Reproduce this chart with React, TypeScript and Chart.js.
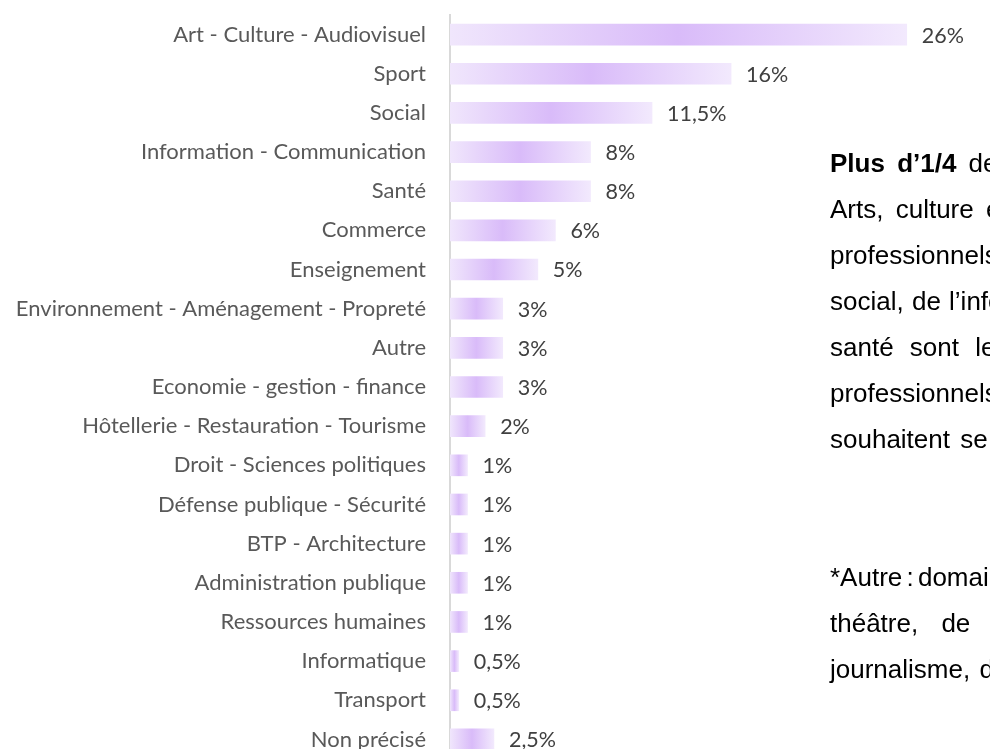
import React, { useEffect, useRef } from "react";
import { Chart, registerables } from "chart.js";

Chart.register(...registerables);

const categories = [
  "Art - Culture - Audiovisuel",
  "Sport",
  "Social",
  "Information - Communication",
  "Santé",
  "Commerce",
  "Enseignement",
  "Environnement - Aménagement - Propreté",
  "Autre",
  "Economie - gestion - finance",
  "Hôtellerie - Restauration - Tourisme",
  "Droit - Sciences politiques",
  "Défense publique - Sécurité",
  "BTP - Architecture",
  "Administration publique",
  "Ressources humaines",
  "Informatique",
  "Transport",
  "Non précisé",
];

const values = [26, 16, 11.5, 8, 8, 6, 5, 3, 3, 3, 2, 1, 1, 1, 1, 1, 0.5, 0.5, 2.5];

const valueLabels = values.map((v) => String(v).replace(".", ",") + "%");

const LABEL_FONT = "Lato";
const LABEL_SIZE = 22;

const valueLabelPlugin = {
  id: "valueLabels",
  afterDatasetsDraw(chart: any) {
    const { ctx } = chart;
    const meta = chart.getDatasetMeta(0);
    ctx.save();
    ctx.font = `${LABEL_SIZE - 0.5}px ${LABEL_FONT}`;
    ctx.fillStyle = "#404040";
    ctx.textAlign = "left";
    ctx.textBaseline = "middle";
    meta.data.forEach((el: any, i: number) => {
      ctx.fillText(valueLabels[i], el.x + 15, el.y + 1);
    });
    ctx.restore();
  },
};

const paragraphLines: { bold?: string; text: string; ws: number }[] = [
  { bold: "Plus d’1/4", text: " des jeunes souhaitent travailler dans les", ws: 5 },
  { text: "Arts, culture et audiovisuel. Les domaines", ws: 5 },
  { text: "professionnels du sport, du", ws: 3 },
  { text: "social, de l’information et de la", ws: 1 },
  { text: "santé sont les autres domaines", ws: 9 },
  { text: "professionnels dans lesquels les jeunes", ws: 3 },
  { text: "souhaitent se diriger.", ws: 3 },
];

const noteLines: { text: string; ws: number }[] = [
  { text: "*Autre : domaines du cinéma, du", ws: -3 },
  { text: "théâtre, de la musique, du", ws: 16 },
  { text: "journalisme, de la mode…", ws: 2 },
];

export default function App() {
  const canvasRef = useRef<HTMLCanvasElement | null>(null);

  useEffect(() => {
    const canvas = canvasRef.current;
    if (!canvas) return;
    const chart = new Chart(canvas, {
      type: "bar",
      data: {
        labels: categories,
        datasets: [
          {
            data: values,
            barThickness: 21,
            borderWidth: 0,
            backgroundColor: (c: any) => {
              const ch = c.chart;
              if (!ch.chartArea || c.raw === undefined) return "#e0c8fa";
              const xs = ch.scales.x;
              const x0 = xs.getPixelForValue(0);
              const x1 = xs.getPixelForValue(c.raw);
              const g = ch.ctx.createLinearGradient(x0, 0, Math.max(x1, x0 + 1), 0);
              g.addColorStop(0, "#f0e6fc");
              g.addColorStop(0.5, "#d9bbf9");
              g.addColorStop(1, "#f2e9fd");
              return g;
            },
          },
        ],
      },
      options: {
        indexAxis: "y",
        animation: false,
        responsive: false,
        devicePixelRatio: 1,
        layout: { padding: { left: 0, right: 13, top: 15, bottom: 11 } },
        plugins: {
          legend: { display: false },
          tooltip: { enabled: false },
        },
        scales: {
          x: {
            display: false,
            min: 0,
            max: 30,
          },
          y: {
            afterFit: (s: any) => {
              s.width = 450;
              s.paddingTop = 0;
              s.paddingBottom = 0;
            },
            grid: { display: false, drawTicks: false },
            border: { display: true, color: "#d9d9d9", width: 2 },
            ticks: {
              autoSkip: false,
              padding: 24,
              color: "#595959",
              font: { family: LABEL_FONT, size: LABEL_SIZE },
            },
          },
        },
      },
      plugins: [valueLabelPlugin],
    } as any);
    return () => chart.destroy();
  }, []);

  const textBase: React.CSSProperties = {
    position: "absolute",
    left: 830,
    whiteSpace: "nowrap",
    fontFamily: "'Liberation Sans', Arial, sans-serif",
    fontSize: "26px",
    lineHeight: "46px",
    color: "#000",
  };

  return (
    <div
      style={{
        position: "fixed",
        left: 0,
        top: 0,
        width: 990,
        height: 749,
        overflow: "hidden",
        background: "#fff",
      }}
    >
      <canvas
        ref={canvasRef}
        width={990}
        height={770}
        style={{ position: "absolute", left: 0, top: 0, width: 990, height: 770 }}
      />
      {paragraphLines.map((l, i) => (
        <div key={"p" + i} style={{ ...textBase, top: 140 + 46 * i, wordSpacing: l.ws }}>
          {l.bold ? <b>{l.bold}</b> : null}
          {l.text}
        </div>
      ))}
      {noteLines.map((l, i) => (
        <div key={"n" + i} style={{ ...textBase, top: 140 + 46 * (i + 9), wordSpacing: l.ws }}>
          {l.text}
        </div>
      ))}
    </div>
  );
}
